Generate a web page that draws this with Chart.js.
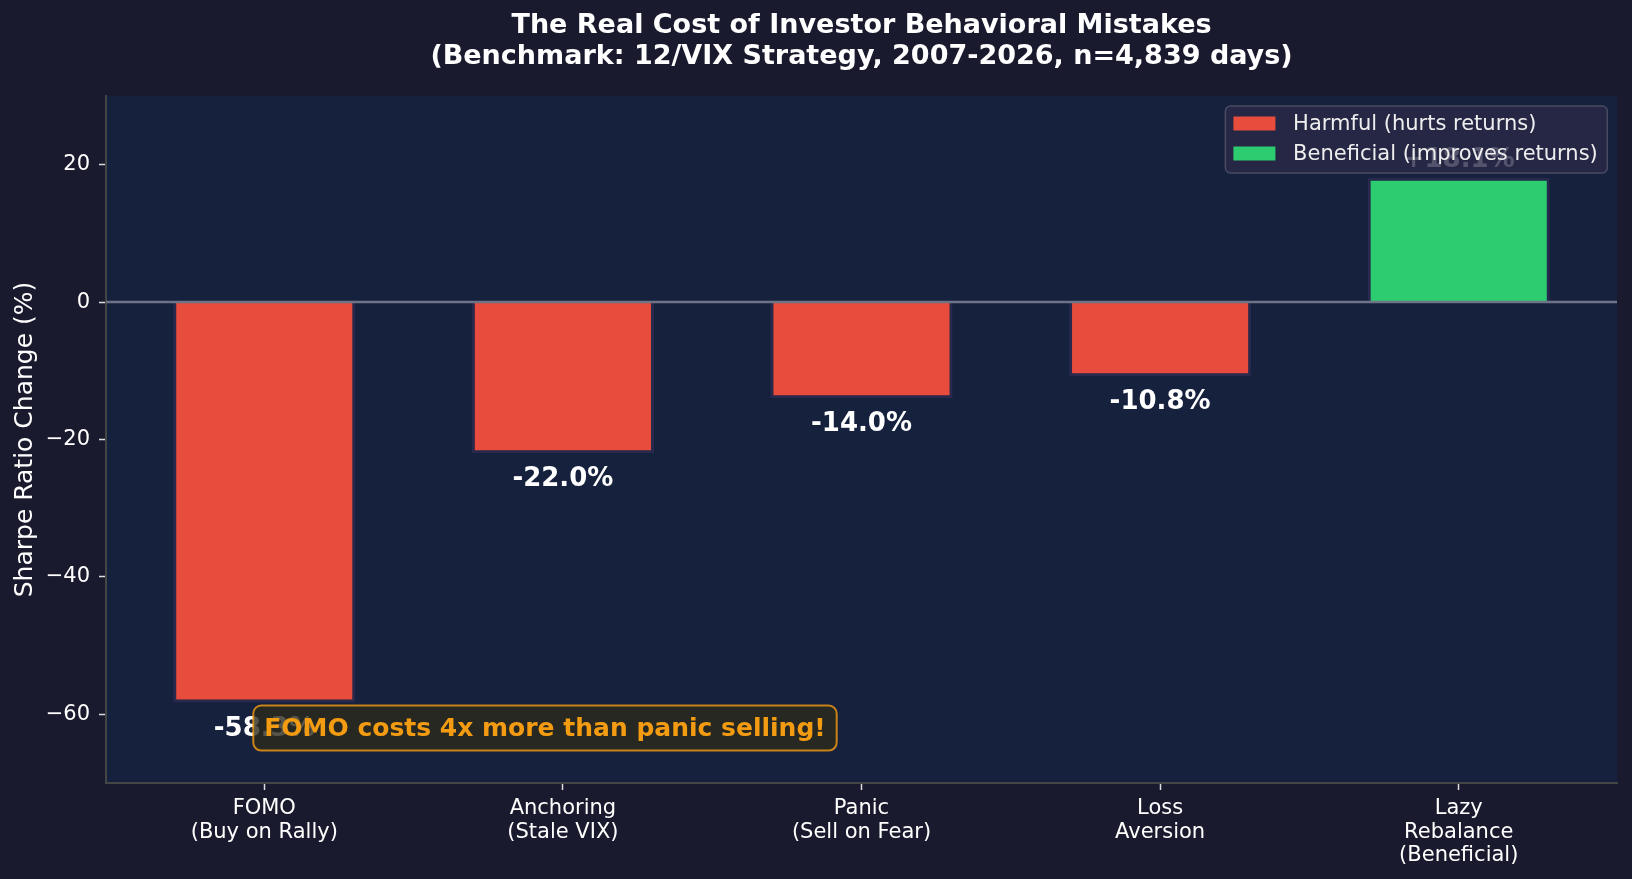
<!DOCTYPE html>
<html>
<head>
<meta charset="utf-8">
<script src="https://cdn.jsdelivr.net/npm/chart.js@4.4.1/dist/chart.umd.min.js"></script>
<style>
  html, body { margin: 0; padding: 0; background: #1a1a2e; }
  #wrap { width: 1632px; height: 879px; }
</style>
</head>
<body>
<div id="wrap"><canvas id="behaviorChart"></canvas></div>
<script>
const categories = [
    ['FOMO', '(Buy on Rally)'],
    ['Anchoring', '(Stale VIX)'],
    ['Panic', '(Sell on Fear)'],
    ['Loss', 'Aversion'],
    ['Lazy', 'Rebalance', '(Beneficial)']
];
const sharpeChange = [-58.3, -22.0, -14.0, -10.8, 18.1];
const yTicks = [-60, -40, -20, 0, 20];
const legendLabels = ['Harmful (hurts returns)', 'Beneficial (improves returns)'];
const titleLines = ['The Real Cost of Investor Behavioral Mistakes',
                    '(Benchmark: 12/VIX Strategy, 2007-2026, n=4,839 days)'];
const harmfulColor = '#e74c3c';
const beneficialColor = '#2ecc71';
const calloutText = 'FOMO costs 4x more than panic selling!';

const FONT = '"DejaVu Sans", sans-serif';
Chart.defaults.font.family = FONT;
Chart.defaults.color = '#ffffff';

// background, title, zero line, value labels, callout box and legend
const overlay = {
    id: 'overlay',
    beforeDraw(chart) {
        const { ctx, chartArea: a } = chart;
        ctx.save();
        ctx.fillStyle = '#1a1a2e';
        ctx.fillRect(0, 0, chart.width, chart.height);
        ctx.fillStyle = '#16213e';
        ctx.fillRect(a.left, a.top, a.right - a.left, a.bottom - a.top);
        ctx.restore();
    },
    afterDatasetsDraw(chart) {
        const { ctx, chartArea: a, scales: { x, y } } = chart;
        ctx.save();

        // title, centred over the plot area like matplotlib
        ctx.font = 'bold 27px ' + FONT;
        ctx.fillStyle = '#ffffff';
        ctx.textAlign = 'center';
        ctx.textBaseline = 'middle';
        titleLines.forEach((t, i) => ctx.fillText(t, (a.left + a.right) / 2, 25.5 + i * 31));

        // zero line
        const y0 = y.getPixelForValue(0);
        ctx.strokeStyle = '#6e7385';
        ctx.lineWidth = 2.5;
        ctx.beginPath();
        ctx.moveTo(a.left, y0);
        ctx.lineTo(a.right, y0);
        ctx.stroke();

        // value labels
        ctx.font = 'bold 26px ' + FONT;
        ctx.fillStyle = '#ffffff';
        ctx.textAlign = 'center';
        ctx.textBaseline = 'alphabetic';
        chart.getDatasetMeta(0).data.forEach((bar, i) => {
            const v = sharpeChange[i];
            const txt = (v > 0 ? '+' : '') + v.toFixed(1) + '%';
            ctx.fillText(txt, bar.x, v < 0 ? bar.y + 33 : bar.y - 11);
        });

        // callout
        ctx.font = 'bold 25px ' + FONT;
        const tx = x.getPixelForValue(0);
        const ty = y.getPixelForValue(-62);
        const tw = ctx.measureText(calloutText).width;
        ctx.beginPath();
        ctx.roundRect(tx - 11, ty - 22.5, tw + 22, 45, 8);
        ctx.fillStyle = 'rgba(45, 42, 28, 0.8)';
        ctx.fill();
        ctx.strokeStyle = 'rgba(243, 156, 18, 0.8)';
        ctx.lineWidth = 2;
        ctx.stroke();
        ctx.fillStyle = '#f39c12';
        ctx.textAlign = 'left';
        ctx.textBaseline = 'middle';
        ctx.fillText(calloutText, tx, ty + 1);

        // legend
        ctx.font = '21px ' + FONT;
        const textW = Math.max(...legendLabels.map(t => ctx.measureText(t).width));
        const boxW = 8 + 42 + 17.7 + textW + 9.5;
        const boxH = 67;
        const bx = a.right - 9.7 - boxW;
        const by = a.top + 10;
        ctx.beginPath();
        ctx.roundRect(bx, by, boxW, boxH, 5);
        ctx.fillStyle = 'rgba(41, 41, 71, 0.8)';
        ctx.fill();
        ctx.strokeStyle = 'rgba(85, 85, 105, 0.8)';
        ctx.lineWidth = 1.5;
        ctx.stroke();
        [harmfulColor, beneficialColor].forEach((c, i) => {
            const cy = by + 17.5 + i * 30;
            ctx.fillStyle = c;
            ctx.fillRect(bx + 8, cy - 7, 42, 14);
            ctx.fillStyle = '#eeeeee';
            ctx.textAlign = 'left';
            ctx.textBaseline = 'middle';
            ctx.fillText(legendLabels[i], bx + 8 + 42 + 17.7, cy + 1);
        });

        ctx.restore();
    }
};

const ctx = document.getElementById('behaviorChart').getContext('2d');
new Chart(ctx, {
    type: 'bar',
    data: {
        datasets: [{
            label: 'Sharpe Ratio Change (%)',
            data: sharpeChange.map((v, i) => ({ x: i, y: v })),
            backgroundColor: sharpeChange.map(v => v < 0 ? harmfulColor : beneficialColor),
            borderColor: '#28294d',
            borderWidth: 3,
            borderSkipped: 'start',
            categoryPercentage: 1,
            barPercentage: 0.61
        }]
    },
    options: {
        responsive: true,
        maintainAspectRatio: false,
        animation: false,
        layout: {
            padding: { left: 0, right: 15, top: 96, bottom: 0 }
        },
        scales: {
            x: {
                type: 'linear',
                min: -0.53,
                max: 4.53,
                offset: false,
                afterBuildTicks: s => { s.ticks = categories.map((c, i) => ({ value: i })); },
                afterFit: s => { s.height = 96; },
                grid: {
                    offset: false,
                    drawOnChartArea: false,
                    tickLength: 7,
                    tickColor: '#dddddd',
                    tickWidth: 1.5
                },
                border: { color: '#454545', width: 2 },
                ticks: {
                    callback: v => categories[v],
                    color: '#ffffff',
                    font: { size: 21, lineHeight: 1.12 },
                    padding: 7,
                    maxRotation: 0,
                    autoSkip: false
                }
            },
            y: {
                min: -70,
                max: 30,
                afterBuildTicks: s => { s.ticks = yTicks.map(v => ({ value: v })); },
                afterFit: s => { s.width = 106; },
                grid: {
                    drawOnChartArea: false,
                    tickLength: 7,
                    tickColor: '#dddddd',
                    tickWidth: 1.5
                },
                border: { color: '#454545', width: 2 },
                ticks: {
                    callback: v => (v < 0 ? '\u2212' + Math.abs(v) : String(v)),
                    color: '#ffffff',
                    font: { size: 21 },
                    padding: 9
                },
                title: {
                    display: true,
                    text: 'Sharpe Ratio Change (%)',
                    color: '#ffffff',
                    font: { size: 25 },
                    padding: { top: 10, bottom: 0 }
                }
            }
        },
        plugins: {
            title: { display: false },
            legend: { display: false },
            tooltip: { enabled: false }
        }
    },
    plugins: [overlay]
});
</script>
</body>
</html>
